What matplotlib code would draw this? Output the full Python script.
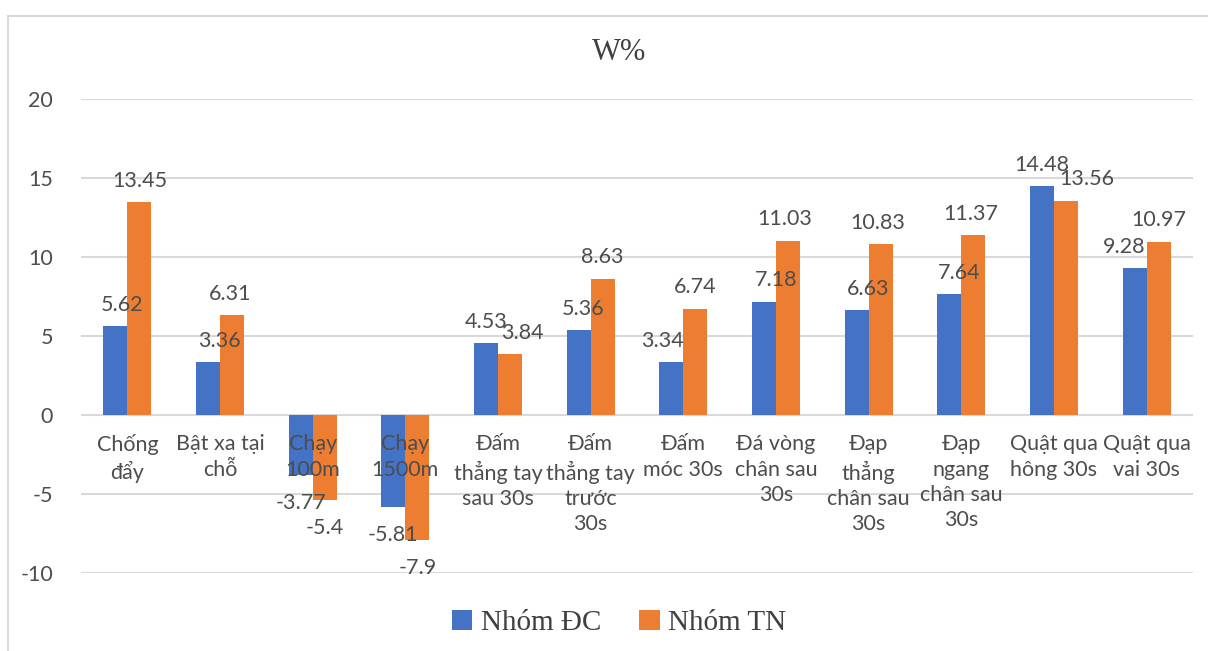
import numpy as np
import matplotlib.pyplot as plt
from matplotlib.patches import Rectangle

# Test names (category axis), pre-wrapped the way they appear under the bars
categories = [
    "Chống\nđẩy",
    "Bật xa tại\nchỗ",
    "Chạy\n100m",
    "Chạy\n1500m",
    "Đấm\nthẳng tay\nsau 30s",
    "Đấm\nthẳng tay\ntrước\n30s",
    "Đấm\nmóc 30s",
    "Đá vòng\nchân sau\n30s",
    "Đạp\nthẳng\nchân sau\n30s",
    "Đạp\nngang\nchân sau\n30s",
    "Quật qua\nhông 30s",
    "Quật qua\nvai 30s",
]

# W% growth for each group
nhom_dc = [5.62, 3.36, -3.77, -5.81, 4.53, 5.36, 3.34, 7.18, 6.63, 7.64, 14.48, 9.28]
nhom_tn = [13.45, 6.31, -5.4, -7.9, 3.84, 8.63, 6.74, 11.03, 10.83, 11.37, 13.56, 10.97]

series_names = ["Nhóm ĐC", "Nhóm TN"]
yticks = [-10, -5, 0, 5, 10, 15, 20]

# sideways nudges (px) for value labels that were dragged off-centre
nudge_dc = [7, 11, 0, 0, 0, 4, -9, 12, 12, 10, 0, -10]
nudge_tn = [0, -2, 0, 0, 12, 0, 0, -3, -3, -3, 21, 0]

BLUE = "#4472C4"
ORANGE = "#ED7D31"
GRID = "#D9D9D9"
TEXT = "#4D4D4D"
SANS = ["Lato", "DejaVu Sans"]
SERIF = ["Liberation Serif", "DejaVu Serif"]
FS = 15.5

W, H = 1208, 651
fig = plt.figure(figsize=(W / 100, H / 100), dpi=100)
fig.patch.set_facecolor("white")

# chart area frame (left and top edges visible)
fig.add_artist(Rectangle((8 / W, -0.1), 1.2, 1.1 - 16 / H,
                         transform=fig.transFigure, fill=False,
                         edgecolor=GRID, linewidth=1.5))

ax = fig.add_axes([81 / W, 1 - 573 / H, (1193 - 81) / W, (573 - 99) / H])

x = np.arange(len(categories))
bw = 0.26
bars_dc = ax.bar(x - bw / 2, nhom_dc, bw, color=BLUE, label=series_names[0], zorder=2)
bars_tn = ax.bar(x + bw / 2, nhom_tn, bw, color=ORANGE, label=series_names[1], zorder=2)

ax.set_xlim(-0.5, len(categories) - 0.5)
ax.set_ylim(-10, 20)
ax.set_yticks(yticks)
ax.set_yticklabels([str(t) for t in yticks], fontsize=FS, color=TEXT, family=SANS)
ax.tick_params(axis="y", length=0, pad=20)
ax.set_xticks([])
ax.grid(axis="y", color=GRID, linewidth=1.5, zorder=0)
ax.set_axisbelow(True)
for s in ax.spines.values():
    s.set_visible(False)

# value labels at the outer end of each bar
for bars, vals, nudges in ((bars_dc, nhom_dc, nudge_dc), (bars_tn, nhom_tn, nudge_tn)):
    for b, v, dx in zip(bars, vals, nudges):
        cx = b.get_x() + b.get_width() / 2
        if v >= 0:
            ax.annotate(f"{v:g}", (cx, v), xytext=(dx * 0.72, 11), textcoords="offset points",
                        ha="center", va="baseline", fontsize=FS, color=TEXT,
                        family=SANS, zorder=4)
        else:
            ax.annotate(f"{v:g}", (cx, v), xytext=(dx * 0.72, -13), textcoords="offset points",
                        ha="center", va="top", fontsize=FS, color=TEXT,
                        family=SANS, zorder=4)

# category names sit just under the zero line
for i, lab in enumerate(categories):
    ax.annotate(lab, (i, 0), xytext=(0, -14), textcoords="offset points",
                ha="center", va="top", fontsize=FS, color=TEXT, family=SANS,
                linespacing=1.32, zorder=4)

fig.text(619 / W, 1 - 52 / H, "W%", ha="center", va="center",
         fontsize=22, color="#404040", family=SERIF)

fig.legend(handles=[bars_dc, bars_tn], labels=series_names,
           loc="center", bbox_to_anchor=(619 / W, 1 - 623 / H), ncol=2,
           frameon=False, handlelength=0.7, handleheight=0.7, handletextpad=0.3,
           columnspacing=1.3, prop={"family": SERIF, "size": 21},
           labelcolor="#404040")

fig.savefig("out.png", dpi=100)
